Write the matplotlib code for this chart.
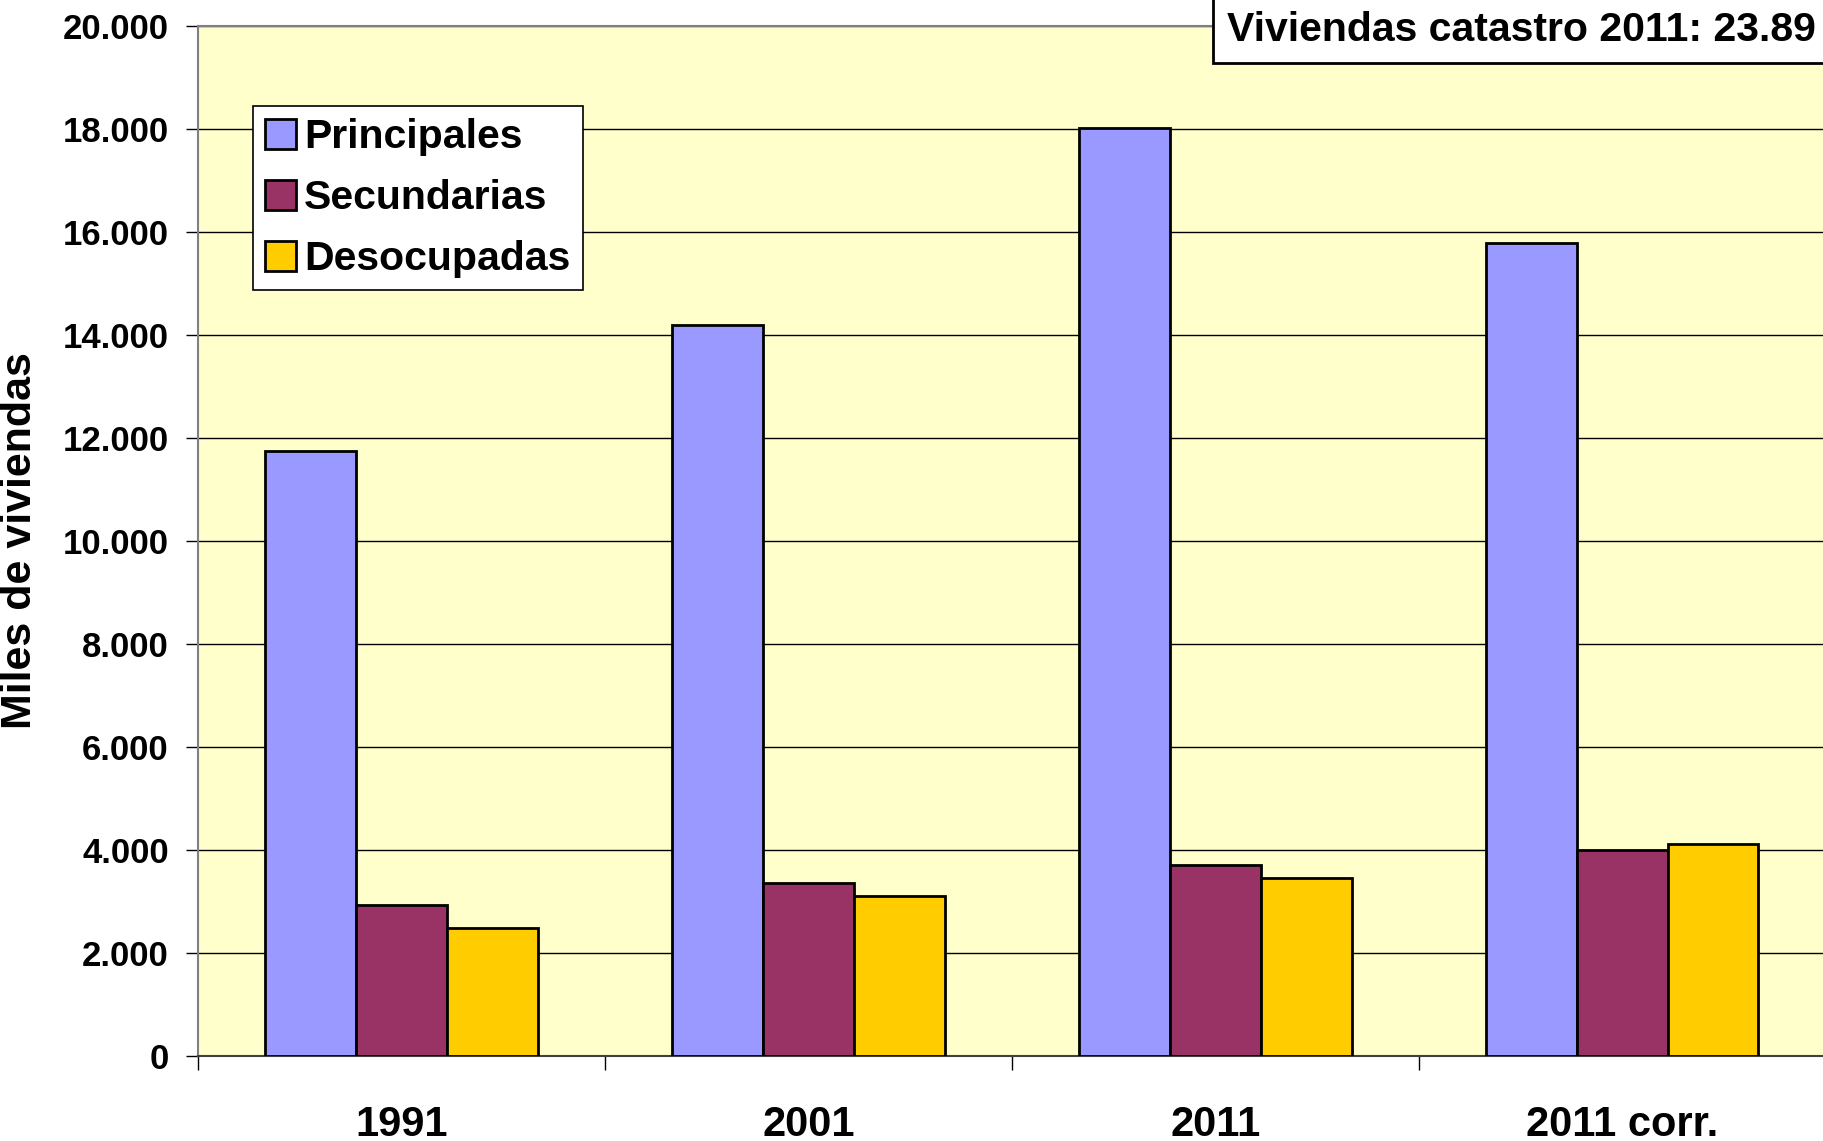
import numpy as np
import matplotlib
matplotlib.use('Agg')
import matplotlib.pyplot as plt
from matplotlib.ticker import FuncFormatter

plt.rcParams['font.family'] = ['Liberation Sans', 'DejaVu Sans']
plt.rcParams['font.weight'] = 'bold'

years = ['1991', '2001', '2011', '2011 corr.']
principales = [11736, 14184, 18013, 15779]
secundarias = [2935, 3363, 3702, 3995]
desocupadas = [2483, 3115, 3454, 4108]
series = ['Principales', 'Secundarias', 'Desocupadas']
colors = ['#9999FF', '#993366', '#FFCC00']
nota = 'Viviendas catastro 2011: 23.89'

fig = plt.figure(figsize=(18.24, 11.41), dpi=100)
ax = fig.add_axes([198 / 1824, 1 - 1056 / 1141, 1 - 198 / 1824 + 0.001, (1056 - 25.6) / 1141])
ax.set_facecolor('#FFFFCC')

x = np.arange(len(years))
w = 0.223
for i, (vals, name, c) in enumerate(zip([principales, secundarias, desocupadas], series, colors)):
    ax.bar(x + (i - 1) * w, vals, w, color=c, edgecolor='black', linewidth=2, label=name, zorder=3)

ax.set_xlim(-0.5, 3.5)
ax.set_ylim(0, 20000)
ax.set_yticks(np.arange(0, 20001, 2000))
ax.yaxis.set_major_formatter(FuncFormatter(lambda v, p: f'{int(v):,}'.replace(',', '.')))
ax.grid(axis='y', color='black', linewidth=1, zorder=0)
ax.tick_params(axis='y', labelsize=25, length=9, width=1, pad=12, color='black')

ax.set_xticks(x)
ax.set_xticklabels(years)
ax.set_xticks(np.arange(-0.5, 3.0, 1.0), minor=True)
ax.tick_params(axis='x', which='major', length=0, labelsize=30, pad=35)
ax.tick_params(axis='x', which='minor', length=10, width=1, color='black')

ax.spines['left'].set_color('#808080')
ax.spines['left'].set_linewidth(1.5)
ax.spines['top'].set_color('#808080')
ax.spines['top'].set_linewidth(1.5)
ax.spines['bottom'].set_color('#404040')
ax.spines['bottom'].set_linewidth(1.5)
ax.spines['right'].set_visible(False)

fig.text(20 / 1824, 1 - 541 / 1141, 'Miles de viviendas', rotation=90, fontsize=31,
         fontweight='bold', ha='center', va='center')

leg = ax.legend(loc='upper left', bbox_to_anchor=(253 / 1824, 1 - 106 / 1141),
                bbox_transform=fig.transFigure, fontsize=29.5, frameon=True, fancybox=False,
                handlelength=0.75, handleheight=0.75, handletextpad=0.2, labelspacing=0.56,
                borderpad=0.3, borderaxespad=0)
leg.get_frame().set_edgecolor('black')
leg.get_frame().set_facecolor('white')
leg.get_frame().set_alpha(1)
leg.get_frame().set_linewidth(1.2)
for t in leg.get_texts():
    t.set_fontweight('bold')

fig.text(1227 / 1824, 1 - 30 / 1141, nota, fontsize=29.5, fontweight='bold', ha='left', va='center',
         bbox=dict(boxstyle='square,pad=0.35', facecolor='white', edgecolor='black', linewidth=2))

fig.savefig('out.png', dpi=100)
